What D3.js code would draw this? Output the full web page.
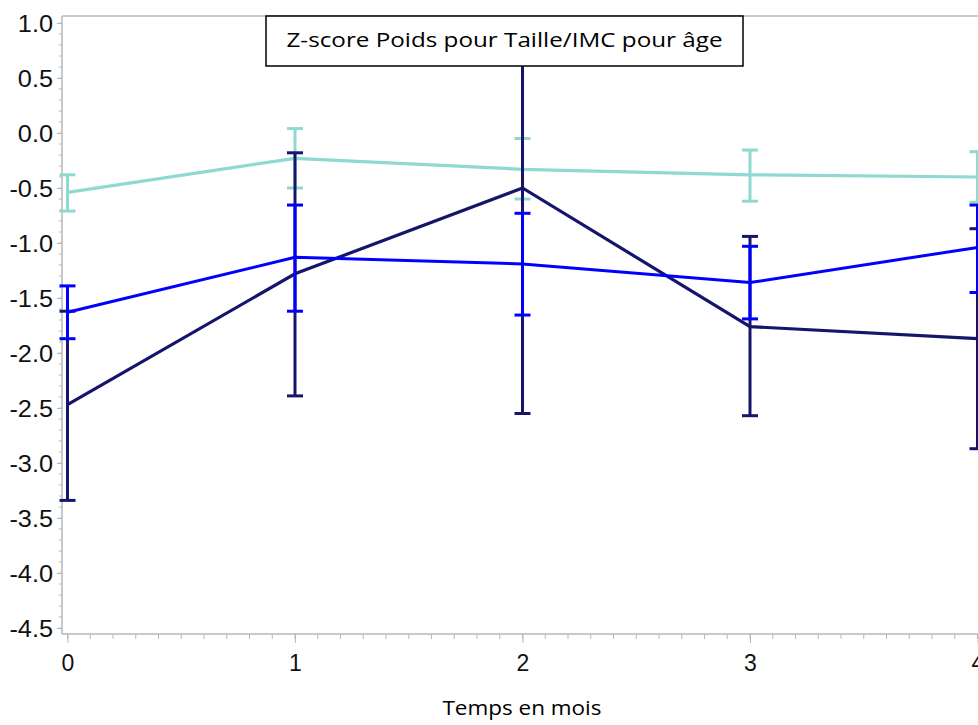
<!DOCTYPE html>
<html>
<head>
<meta charset="utf-8">
<script src="https://cdn.jsdelivr.net/npm/d3@7"></script>
<style>
  html, body { margin: 0; padding: 0; background: #fff; }
  svg { display: block; }
</style>
</head>
<body>
<div id="chart"></div>
<script>
// ---- data ----
const months = [0, 1, 2, 3, 4];
const tealMean  = [-0.54, -0.23, -0.33, -0.38, -0.40];
const tealLow   = [-0.71, -0.50, -0.60, -0.62, -0.63];
const tealHigh  = [-0.38,  0.04, -0.05, -0.155, -0.17];
const blueMean  = [-1.63, -1.13, -1.19, -1.36, -1.04];
const blueLow   = [-1.87, -1.62, -1.655, -1.69, -1.45];
const blueHigh  = [-1.39, -0.655, -0.73, -1.03, -0.655];
const navyMean  = [-2.47, -1.28, -0.50, -1.76, -1.87];
const navyLow   = [-3.34, -2.39, -2.55, -2.57, -2.87];
const navyHigh  = [-1.62, -0.18,  1.55, -0.94, -0.87];
const yTickValues = [1.0, 0.5, 0.0, -0.5, -1.0, -1.5, -2.0, -2.5, -3.0, -3.5, -4.0, -4.5];
const xTickValues = [0, 1, 2, 3, 4];
const titleText = "Z-score Poids pour Taille/IMC  pour âge";
const xTitle = "Temps en mois";

const series = [
  { name: "teal", color: "#8fd9d1", mean: tealMean, low: tealLow, high: tealHigh, lw: 3.2 },
  { name: "navy", color: "#15156b", mean: navyMean, low: navyLow, high: navyHigh, lw: 3.2 },
  { name: "blue", color: "#0000ff", mean: blueMean, low: blueLow, high: blueHigh, lw: 3 }
];

// ---- layout ----
const W = 978, H = 725;
const axisColor = "#b4b8bc";
const svg = d3.select("#chart").append("svg").attr("width", W).attr("height", H);

const x = d3.scaleLinear().domain([0, 4]).range([67.5, 977.5]);
const y = d3.scaleLinear().domain([-4.55, 1.06]).range([633.5, 16.4]);
const axisLeftX = 62, axisBottomY = 634, topY = 16;

svg.append("defs").append("clipPath").attr("id", "plotClip")
  .append("rect").attr("x", axisLeftX - 20).attr("y", topY).attr("width", W).attr("height", axisBottomY - topY);

const fmt = d => d3.format(".1f")(d).replace("\u2212", "-");

// frame line
svg.append("line").attr("x1", axisLeftX).attr("x2", W).attr("y1", topY).attr("y2", topY)
  .attr("stroke", axisColor).attr("stroke-width", 1.5);

// Y axis
const yAxisG = svg.append("g").attr("transform", `translate(${axisLeftX},0)`);
const yMinor = d3.range(-45, 11).map(d => d / 10);
yAxisG.selectAll("line.minor").data(yMinor).join("line")
  .attr("x1", -3).attr("x2", 0).attr("y1", d => y(d)).attr("y2", d => y(d))
  .attr("stroke", axisColor).attr("stroke-width", 1);
const yAxis = d3.axisLeft(y).tickValues(yTickValues).tickSize(5).tickPadding(6).tickFormat(fmt);
yAxisG.call(yAxis);
yAxisG.select(".domain").attr("d", `M0,${topY}V${axisBottomY}`).attr("stroke", axisColor).attr("stroke-width", 1.5);
yAxisG.selectAll(".tick line").attr("stroke", axisColor).attr("stroke-width", 1);
yAxisG.selectAll(".tick text")
  .attr("font-family", "'Liberation Sans', Arial, sans-serif")
  .attr("font-size", 23).attr("fill", "#111")
  .attr("x", 0).attr("dy", "0.36em")
  .attr("transform", "translate(-9,0) scale(1.1,1)");

// X axis
const xAxisG = svg.append("g").attr("transform", `translate(0,${axisBottomY})`);
const xMinor = d3.range(0, 41).map(d => d / 10);
xAxisG.selectAll("line.minor").data(xMinor).join("line")
  .attr("x1", d => x(d)).attr("x2", d => x(d)).attr("y1", 0).attr("y2", 5)
  .attr("stroke", axisColor).attr("stroke-width", 1);
const xAxis = d3.axisBottom(x).tickValues(xTickValues).tickSize(9).tickPadding(12)
  .tickFormat(d3.format("d"));
xAxisG.call(xAxis);
xAxisG.select(".domain").attr("d", `M${axisLeftX},0H${W}`).attr("stroke", axisColor).attr("stroke-width", 1.5);
xAxisG.selectAll(".tick line").attr("stroke", axisColor).attr("stroke-width", 1);
xAxisG.selectAll(".tick text")
  .attr("font-family", "'Liberation Sans', Arial, sans-serif")
  .attr("font-size", 23).attr("fill", "#111");

// series
const capHalf = 8;
const plot = svg.append("g").attr("clip-path", "url(#plotClip)");
series.forEach(s => {
  const g = plot.append("g");
  const pts = months.map((m, i) => ({ m, mean: s.mean[i], low: s.low[i], high: s.high[i] }));
  g.selectAll("line.err").data(pts).join("line")
    .attr("x1", d => x(d.m)).attr("x2", d => x(d.m))
    .attr("y1", d => y(d.low)).attr("y2", d => y(d.high))
    .attr("stroke", s.color).attr("stroke-width", 3);
  g.selectAll("line.capLow").data(pts).join("line")
    .attr("x1", d => x(d.m) - capHalf).attr("x2", d => x(d.m) + capHalf)
    .attr("y1", d => y(d.low)).attr("y2", d => y(d.low))
    .attr("stroke", s.color).attr("stroke-width", 3);
  g.selectAll("line.capHigh").data(pts).join("line")
    .attr("x1", d => x(d.m) - capHalf).attr("x2", d => x(d.m) + capHalf)
    .attr("y1", d => y(d.high)).attr("y2", d => y(d.high))
    .attr("stroke", s.color).attr("stroke-width", 3);
  g.append("path").datum(pts)
    .attr("d", d3.line().x(d => x(d.m)).y(d => y(d.mean)))
    .attr("fill", "none").attr("stroke", s.color).attr("stroke-width", s.lw)
    .attr("stroke-linejoin", "miter");
});

// title box
const tb = { x: 266, y: 16, w: 477, h: 50 };
svg.append("rect").attr("x", tb.x).attr("y", tb.y).attr("width", tb.w).attr("height", tb.h)
  .attr("fill", "#fff").attr("stroke", "#000").attr("stroke-width", 1.5);
svg.append("text").attr("x", tb.x + tb.w / 2).attr("y", 47)
  .attr("text-anchor", "middle")
  .attr("font-family", "'Open Sans', 'Noto Sans', sans-serif")
  .attr("font-size", 20).attr("fill", "#000")
  .attr("textLength", 436).attr("lengthAdjust", "spacingAndGlyphs")
  .text(titleText);

// x title
svg.append("text").attr("x", 522).attr("y", 715)
  .attr("text-anchor", "middle")
  .attr("font-family", "'Open Sans', 'Noto Sans', sans-serif")
  .attr("font-size", 20).attr("fill", "#000")
  .attr("textLength", 159).attr("lengthAdjust", "spacingAndGlyphs")
  .text(xTitle);
</script>
</body>
</html>
